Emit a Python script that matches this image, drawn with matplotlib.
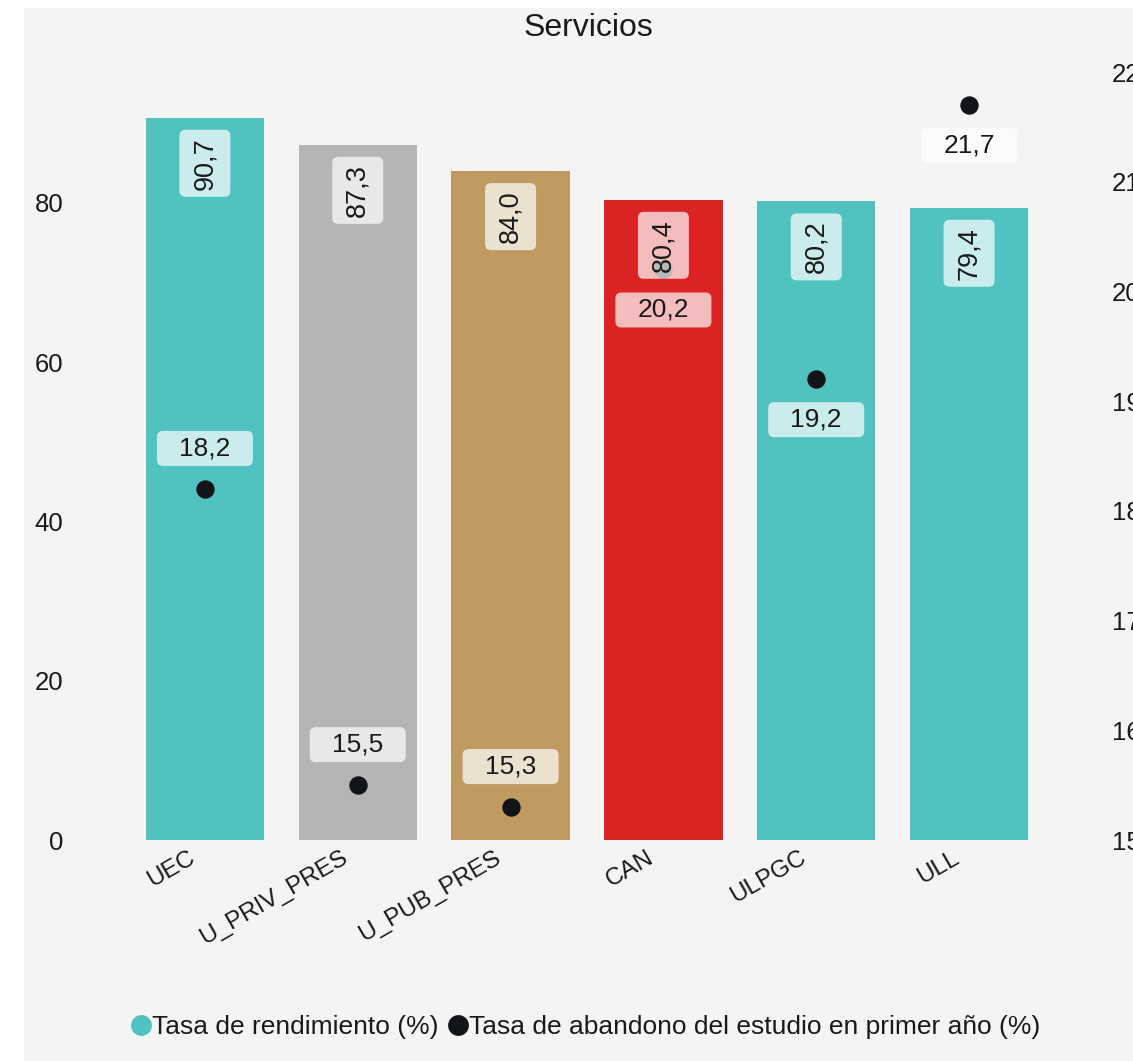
import matplotlib
matplotlib.use("Agg")
import matplotlib.pyplot as plt
from matplotlib.patches import Rectangle, FancyBboxPatch
from matplotlib.lines import Line2D
from matplotlib.transforms import Affine2D, ScaledTranslation

# ---- data ----
categories = ["UEC", "U_PRIV_PRES", "U_PUB_PRES", "CAN", "ULPGC", "ULL"]
rendimiento = [90.7, 87.3, 84.0, 80.4, 80.2, 79.4]
abandono = [18.2, 15.5, 15.3, 20.2, 19.2, 21.7]
left_ticks = [0, 20, 40, 60, 80]
right_ticks = [15, 16, 17, 18, 19, 20, 21, 22]
title = "Servicios"
legend_labels = ["Tasa de rendimiento (%)", "Tasa de abandono del estudio en primer año (%)"]

# ---- style ----
bar_colors = ["#50c2c0", "#b5b5b5", "#bf9b62", "#dc2323", "#50c2c0", "#50c2c0"]
dot_label_side = [1, 1, 1, -1, -1, -1]  # +1 above, -1 below
dot_color = "#111418"
text_color = "#1a1a1a"
bg = "#f4f4f4"

plt.rcParams['font.family'] = ['Liberation Sans', 'DejaVu Sans']

W, H, DPI = 1133, 1061, 100
fig = plt.figure(figsize=(W / DPI, H / DPI), dpi=DPI, facecolor="white")
fig.patches.append(Rectangle((24 / W, 0), 1 - 24 / W, 1 - 8 / H,
                             transform=fig.transFigure, facecolor=bg,
                             edgecolor="none", zorder=-10))

ax_l, ax_r, ax_b, ax_t = 128.5, 1045.5, 840, 72
ax = fig.add_axes([ax_l / W, 1 - ax_b / H, (ax_r - ax_l) / W, (ax_b - ax_t) / H])
ax.set_facecolor("none")
ax2 = ax.twinx()
ax2.set_facecolor("none")

x = list(range(len(categories)))
ax.bar(x, rendimiento, width=0.775, color=bar_colors, zorder=2)
ax.set_xlim(-0.5, len(categories) - 0.5)
ax.set_ylim(0, 96.45)
ax.set_yticks(left_ticks)
ax.set_yticklabels([str(t) for t in left_ticks])
ax2.set_ylim(15, 22)
ax2.set_yticks(right_ticks)
ax2.set_yticklabels([str(t) for t in right_ticks])

ax2.scatter(x, abandono, s=150, color=dot_color, zorder=3, clip_on=False)

for a in (ax, ax2):
    for s in a.spines.values():
        s.set_visible(False)
ax.tick_params(axis="y", length=0, pad=47, labelsize=18.5, labelcolor=text_color)
ax2.tick_params(axis="y", length=0, pad=48, labelsize=18.5, labelcolor=text_color)
ax.set_xticks(x)
ax.set_xticklabels(categories)
ax.tick_params(axis="x", length=0, pad=5, labelsize=17.5, labelcolor=text_color)
shift = ScaledTranslation(-17 / DPI, 0, fig.dpi_scale_trans)
for lbl in ax.get_xticklabels():
    lbl.set_rotation(30)
    lbl.set_ha("right")
    lbl.set_va("top")
    lbl.set_rotation_mode("anchor")
    lbl.set_transform(lbl.get_transform() + shift)

pt2px = Affine2D().scale(DPI / 72.0)

def label_box(xd, yd, data_trans, cx_pt, cy_pt, w_pt, h_pt, txt, rot, fs):
    tr = pt2px + ScaledTranslation(xd, yd, data_trans)
    box = FancyBboxPatch((cx_pt - w_pt / 2, cy_pt - h_pt / 2), w_pt, h_pt,
                         boxstyle="round,pad=0,rounding_size=4.3",
                         transform=tr, facecolor=(1, 1, 1, 0.7),
                         edgecolor="none", zorder=5, clip_on=False)
    ax2.add_artist(box)
    ax2.annotate(txt, xy=(xd, yd), xycoords=data_trans,
                 xytext=(cx_pt, cy_pt), textcoords="offset points",
                 ha="center", va="center", rotation=rot, rotation_mode="default",
                 fontsize=fs, color=text_color, zorder=6, annotation_clip=False)

def fmt(v):
    return f"{v:.1f}".replace(".", ",")

for i, v in enumerate(rendimiento):
    label_box(i, v, ax.transData, 0, -(12 + 33.5) * 0.72, 51 * 0.72, 67 * 0.72, fmt(v), 90, 19.5)

for i, v in enumerate(abandono):
    label_box(i, v, ax2.transData, 0, dot_label_side[i] * 40.5 * 0.72,
              96 * 0.72, 35 * 0.72, fmt(v), 0, 19)

fig.text(588 / W, 1 - 28 / H, title, ha="center", va="center",
         fontsize=23, color=text_color)

handles = [Line2D([], [], marker="o", linestyle="none", markersize=15,
                  markerfacecolor=bar_colors[0], markeredgecolor="none"),
           Line2D([], [], marker="o", linestyle="none", markersize=15,
                  markerfacecolor=dot_color, markeredgecolor="none")]
fig.legend(handles, legend_labels, loc="center", bbox_to_anchor=(586 / W, 1 - 1027 / H),
           ncol=2, frameon=False, fontsize=19, handlelength=0.7, handletextpad=0.05,
           columnspacing=0.4, labelcolor=text_color)

fig.savefig("out.png", dpi=DPI, facecolor="white")
